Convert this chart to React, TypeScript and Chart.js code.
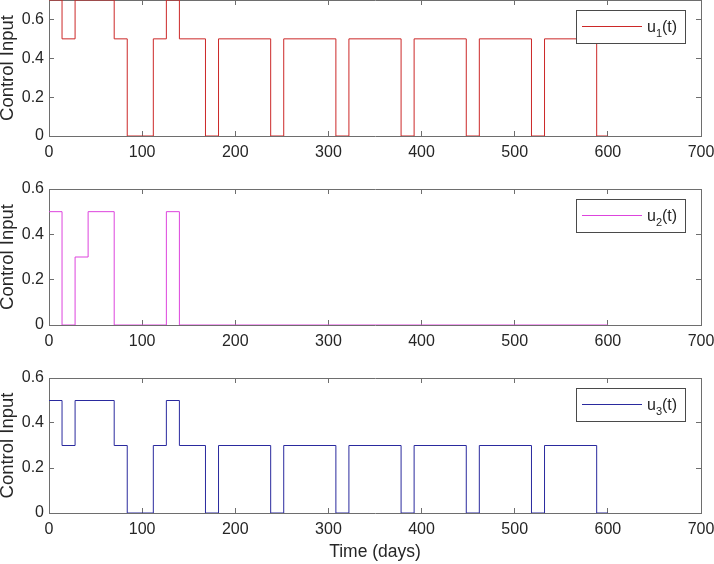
import React, { useEffect, useRef } from "react";
import { Chart, registerables } from "chart.js";

Chart.register(...registerables);

// ---- data ----
const xTicks = [0, 100, 200, 300, 400, 500, 600, 700];
const yTicksTop = [0, 0.2, 0.4, 0.6];
const yTicksMid = [0, 0.2, 0.4, 0.6];
const yTicksBottom = [0, 0.2, 0.4, 0.6];
const xMin = 0;
const xMax = 700;
const yMaxTop = 0.7;
const yMaxMid = 0.6;
const yMaxBottom = 0.6;

// switching instants (days) and the value held from each instant to the next
const u1Days = [0, 14, 28, 70, 84, 112, 126, 140, 168, 182, 238, 252, 308, 322, 378, 392, 448, 462, 518, 532, 588, 600];
const u1Values = [0.7, 0.5, 0.7, 0.5, 0, 0.5, 0.7, 0.5, 0, 0.5, 0, 0.5, 0, 0.5, 0, 0.5, 0, 0.5, 0, 0.5, 0, 0];

const u2Days = [0, 14, 28, 42, 70, 126, 140, 600];
const u2Values = [0.5, 0, 0.3, 0.5, 0, 0.5, 0, 0];

const u3Days = [0, 14, 28, 70, 84, 112, 126, 140, 168, 182, 238, 252, 308, 322, 378, 392, 448, 462, 518, 532, 588, 600];
const u3Values = [0.5, 0.3, 0.5, 0.3, 0, 0.3, 0.5, 0.3, 0, 0.3, 0, 0.3, 0, 0.3, 0, 0.3, 0, 0.3, 0, 0.3, 0, 0];

const yLabel = "Control Input";
const xLabel = "Time (days)";

// ---- styles ----
const FONT = '"Liberation Sans", Arial, Helvetica, sans-serif';
const axisColor = "#6e6e6e";
const textColor = "#262626";

function legendPlugin(sub: string, color: string) {
  return {
    id: "subLegend",
    afterDraw(chart: any) {
      const { ctx, chartArea } = chart;
      const w = 109;
      const h = 33;
      const x0 = Math.round(chartArea.right - 16 - w);
      const y0 = Math.round(chartArea.top + 10);
      ctx.save();
      ctx.fillStyle = "#ffffff";
      ctx.fillRect(x0, y0, w, h);
      ctx.strokeStyle = "#4a4a4a";
      ctx.lineWidth = 1;
      ctx.strokeRect(x0 + 0.5, y0 + 0.5, w, h);
      ctx.strokeStyle = color;
      ctx.beginPath();
      ctx.moveTo(x0 + 6, y0 + 16.5);
      ctx.lineTo(x0 + 66, y0 + 16.5);
      ctx.stroke();
      ctx.fillStyle = textColor;
      ctx.textAlign = "left";
      ctx.textBaseline = "alphabetic";
      let tx = x0 + 71;
      ctx.font = `16px ${FONT}`;
      ctx.fillText("u", tx, y0 + 22);
      tx += ctx.measureText("u").width;
      ctx.font = `11px ${FONT}`;
      ctx.fillText(sub, tx, y0 + 26.5);
      tx += ctx.measureText(sub).width;
      ctx.font = `16px ${FONT}`;
      ctx.fillText("(t)", tx, y0 + 22);
      ctx.restore();
    },
  };
}

function zeroPad(s: any) {
  s.paddingTop = 0;
  s.paddingBottom = 0;
  s.paddingLeft = 0;
  s.paddingRight = 0;
}

function makeConfig(opts: {
  days: number[];
  values: number[];
  color: string;
  yMax: number;
  yTicks: number[];
  sub: string;
  showXTitle: boolean;
  axisHeight: number;
  padTop: number;
}): any {
  const tickFont = { family: FONT, size: 16 };
  const setX = (s: any) => {
    s.ticks = xTicks.map((v) => ({ value: v }));
  };
  const setY = (s: any) => {
    s.ticks = opts.yTicks.map((v) => ({ value: v }));
  };
  const grid = { drawOnChartArea: false, drawTicks: true, tickLength: -5, color: axisColor, lineWidth: 1 };
  const border = { display: true, color: axisColor, width: 1 };
  return {
    type: "line",
    data: {
      datasets: [
        {
          data: opts.days.map((d, i) => ({ x: d, y: opts.values[i] })),
          borderColor: opts.color,
          borderWidth: 1,
          pointRadius: 0,
          fill: false,
          stepped: true,
          xAxisID: "x",
          yAxisID: "y",
        },
      ],
    },
    options: {
      responsive: false,
      animation: false,
      events: [],
      layout: { padding: { top: opts.padTop, right: 13, bottom: 0, left: 0 } },
      plugins: { legend: { display: false }, tooltip: { enabled: false } },
      scales: {
        x: {
          type: "linear",
          axis: "x",
          position: "bottom",
          min: xMin,
          max: xMax,
          afterBuildTicks: setX,
          afterFit: (s: any) => {
            s.height = opts.axisHeight;
            zeroPad(s);
          },
          ticks: {
            font: tickFont,
            color: textColor,
            padding: 12,
            maxRotation: 0,
            autoSkip: false,
            callback: (v: any) => String(v),
          },
          grid,
          border,
          title: {
            display: opts.showXTitle,
            text: xLabel,
            color: textColor,
            font: { family: FONT, size: 17.5, lineHeight: 1.2 },
            padding: { top: 0, bottom: 1.5 },
          },
        },
        x2: {
          type: "linear",
          axis: "x",
          position: "top",
          min: xMin,
          max: xMax,
          afterBuildTicks: setX,
          afterFit: (s: any) => {
            s.height = 0;
            zeroPad(s);
          },
          ticks: { display: false },
          grid,
          border,
        },
        y: {
          type: "linear",
          axis: "y",
          position: "left",
          min: 0,
          max: opts.yMax,
          afterBuildTicks: setY,
          afterFit: (s: any) => {
            s.width = 49;
            zeroPad(s);
          },
          ticks: {
            font: tickFont,
            color: textColor,
            padding: 10,
            callback: (v: any) => String(v),
          },
          grid,
          border,
          title: {
            display: true,
            text: yLabel,
            color: textColor,
            font: { family: FONT, size: 18.5, lineHeight: 0.9 },
            padding: { top: 0, bottom: 0 },
          },
        },
        y2: {
          type: "linear",
          axis: "y",
          position: "right",
          min: 0,
          max: opts.yMax,
          afterBuildTicks: setY,
          afterFit: (s: any) => {
            s.width = 0;
            zeroPad(s);
          },
          ticks: { display: false },
          grid,
          border,
        },
      },
    },
    plugins: [legendPlugin(opts.sub, opts.color)],
  };
}

export default function App() {
  const r1 = useRef<HTMLCanvasElement>(null);
  const r2 = useRef<HTMLCanvasElement>(null);
  const r3 = useRef<HTMLCanvasElement>(null);

  useEffect(() => {
    const charts = [
      new Chart(
        r1.current as HTMLCanvasElement,
        makeConfig({
          days: u1Days,
          values: u1Values,
          color: "#cc2828",
          yMax: yMaxTop,
          yTicks: yTicksTop,
          sub: "1",
          showXTitle: false,
          axisHeight: 53,
          padTop: 0,
        })
      ),
      new Chart(
        r2.current as HTMLCanvasElement,
        makeConfig({
          days: u2Days,
          values: u2Values,
          color: "#dd44dd",
          yMax: yMaxMid,
          yTicks: yTicksMid,
          sub: "2",
          showXTitle: false,
          axisHeight: 53,
          padTop: 14,
        })
      ),
      new Chart(
        r3.current as HTMLCanvasElement,
        makeConfig({
          days: u3Days,
          values: u3Values,
          color: "#2a2a9e",
          yMax: yMaxBottom,
          yTicks: yTicksBottom,
          sub: "3",
          showXTitle: true,
          axisHeight: 51,
          padTop: 14,
        })
      ),
    ];
    return () => charts.forEach((c) => c.destroy());
  }, []);

  return (
    <div
      style={{
        position: "absolute",
        left: 0,
        top: 0,
        width: 714,
        height: 564,
        background: "#ffffff",
        overflow: "hidden",
      }}
    >
      <canvas ref={r1} width={714} height={189} style={{ position: "absolute", left: 0, top: 0 }} />
      <canvas ref={r2} width={714} height={203} style={{ position: "absolute", left: 0, top: 175 }} />
      <canvas ref={r3} width={714} height={200} style={{ position: "absolute", left: 0, top: 364 }} />
    </div>
  );
}
